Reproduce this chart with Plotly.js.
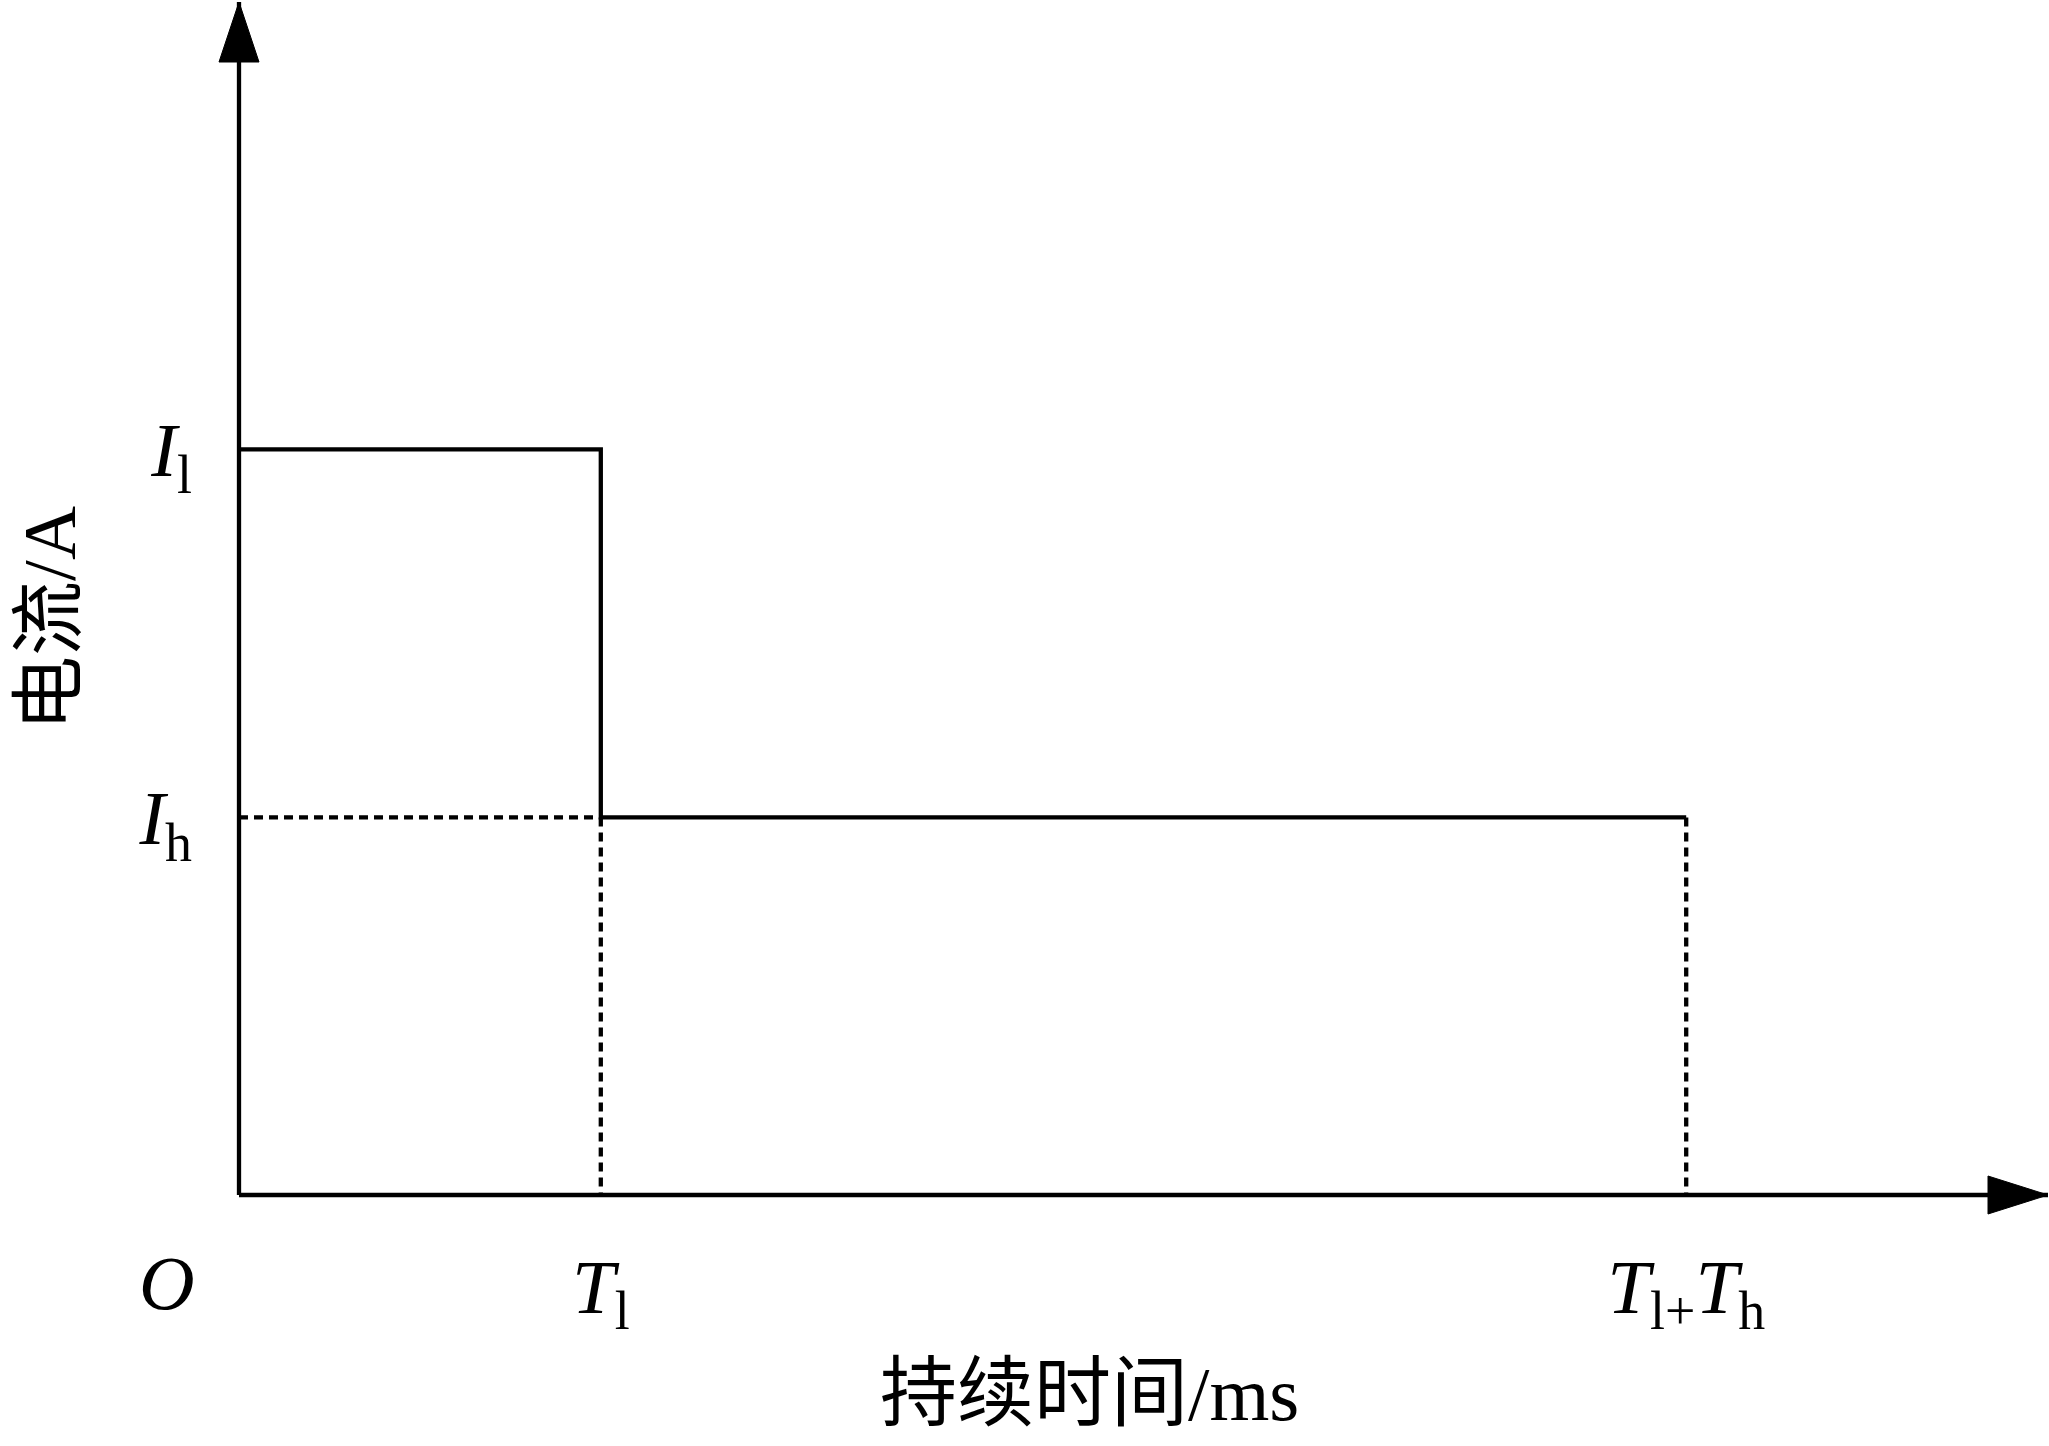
<!DOCTYPE html>
<html>
<head>
<meta charset="utf-8">
<script src="https://cdn.plot.ly/plotly-3.0.1.min.js"></script>
<style>html,body{margin:0;padding:0;background:#fff;}#chart{width:2049px;height:1446px;}</style>
</head>
<body>
<div id="chart"></div>
<script>
// ---- data (arbitrary units) ----
const T_l = 1;          // end of high-current stage
const T_h = 3;          // duration of holding stage
const I_l = 1.975;      // first (large) current level
const I_h = 1;          // holding current level
const stepX = [0, T_l, T_l, T_l + T_h];
const stepY = [I_l, I_l, I_h, I_h];
const xTickVals = [T_l, T_l + T_h];
const xTickText = ['<i>T</i><sub>l</sub>', '<i>T</i><sub>l+</sub><i>T</i><sub>h</sub>'];
const yTickVals = [I_h, I_l];
const yTickText = ['<i>I</i><sub>h</sub>', '<i>I</i><sub>l</sub>'];
const originLabel = '<i>O</i>';
const xTitle = '持续时间/ms';
const yTitle = '电流/A';
const xMax = 5;
const yMax = 3.16;

const serif = '"Liberation Serif", "Times New Roman", "Noto Sans CJK SC", serif';
const black = '#000000';
const LW = 4.3;
const DASH = '9px,6px';

const traces = [
  { // main step waveform
    x: stepX, y: stepY, type: 'scatter', mode: 'lines',
    line: {color: black, width: LW}, hoverinfo: 'skip', showlegend: false
  },
  { // dashed guide: I_h level from the y-axis to T_l
    x: [0, T_l], y: [I_h, I_h], type: 'scatter', mode: 'lines',
    line: {color: black, width: LW, dash: DASH}, hoverinfo: 'skip', showlegend: false
  },
  { // dashed guide: T_l down to the x-axis
    x: [T_l, T_l], y: [I_h, 0], type: 'scatter', mode: 'lines',
    line: {color: black, width: LW, dash: DASH}, hoverinfo: 'skip', showlegend: false
  },
  { // dashed guide: end of holding stage down to the x-axis
    x: [T_l + T_h, T_l + T_h], y: [I_h, 0], type: 'scatter', mode: 'lines',
    line: {color: black, width: LW, dash: DASH}, hoverinfo: 'skip', showlegend: false
  }
];

const layout = {
  width: 2049, height: 1446,
  paper_bgcolor: '#ffffff', plot_bgcolor: '#ffffff',
  margin: {l: 239, r: 1, t: 2, b: 251, pad: 0},
  showlegend: false,
  font: {family: serif, color: black},
  xaxis: {
    range: [0, xMax], showgrid: false, zeroline: false, showline: false,
    tickmode: 'array', tickvals: xTickVals, ticktext: xTickText,
    ticks: '', ticklabelstandoff: 40,
    tickfont: {family: serif, size: 77, color: black},
    automargin: false, fixedrange: true
  },
  yaxis: {
    range: [0, yMax], showgrid: false, zeroline: false, showline: false,
    tickmode: 'array', tickvals: yTickVals, ticktext: yTickText,
    ticks: '', ticklabelstandoff: 46,
    tickfont: {family: serif, size: 77, color: black},
    automargin: false, fixedrange: true
  },
  shapes: [
    // x axis line
    {type: 'line', xref: 'paper', yref: 'paper', x0: 0, x1: 1, y0: 0, y1: 0, line: {color: black, width: LW}},
    // y axis line
    {type: 'line', xref: 'paper', yref: 'paper', x0: 0, x1: 0, y0: 0, y1: 1, line: {color: black, width: LW}},
    // y axis arrowhead
    {type: 'path', xref: 'paper', yref: 'paper', xsizemode: 'pixel', ysizemode: 'pixel',
     xanchor: 0, yanchor: 1, path: 'M -20 -60 L 20 -60 L 0 0 Z',
     fillcolor: black, line: {color: black, width: 1}},
    // x axis arrowhead
    {type: 'path', xref: 'paper', yref: 'paper', xsizemode: 'pixel', ysizemode: 'pixel',
     xanchor: 1, yanchor: 0, path: 'M -60 -19 L -60 19 L 0 0 Z',
     fillcolor: black, line: {color: black, width: 1}}
  ],
  annotations: [
    {xref: 'x', yref: 'y', x: 0, y: 0, text: originLabel, showarrow: false,
     xanchor: 'center', yanchor: 'middle', xshift: -72, yshift: -88,
     font: {family: serif, size: 77, color: black}},
    {xref: 'paper', yref: 'paper', x: 0.4704, y: -0.1668, text: xTitle, showarrow: false,
     xanchor: 'center', yanchor: 'middle',
     font: {family: serif, size: 77, color: black}},
    {xref: 'paper', yref: 'paper', x: -0.1045, y: 0.4837, text: yTitle, showarrow: false,
     textangle: -90, xanchor: 'center', yanchor: 'middle',
     font: {family: serif, size: 75, color: black}}
  ]
};

Plotly.newPlot('chart', traces, layout, {staticPlot: true, displayModeBar: false});
</script>
</body>
</html>
